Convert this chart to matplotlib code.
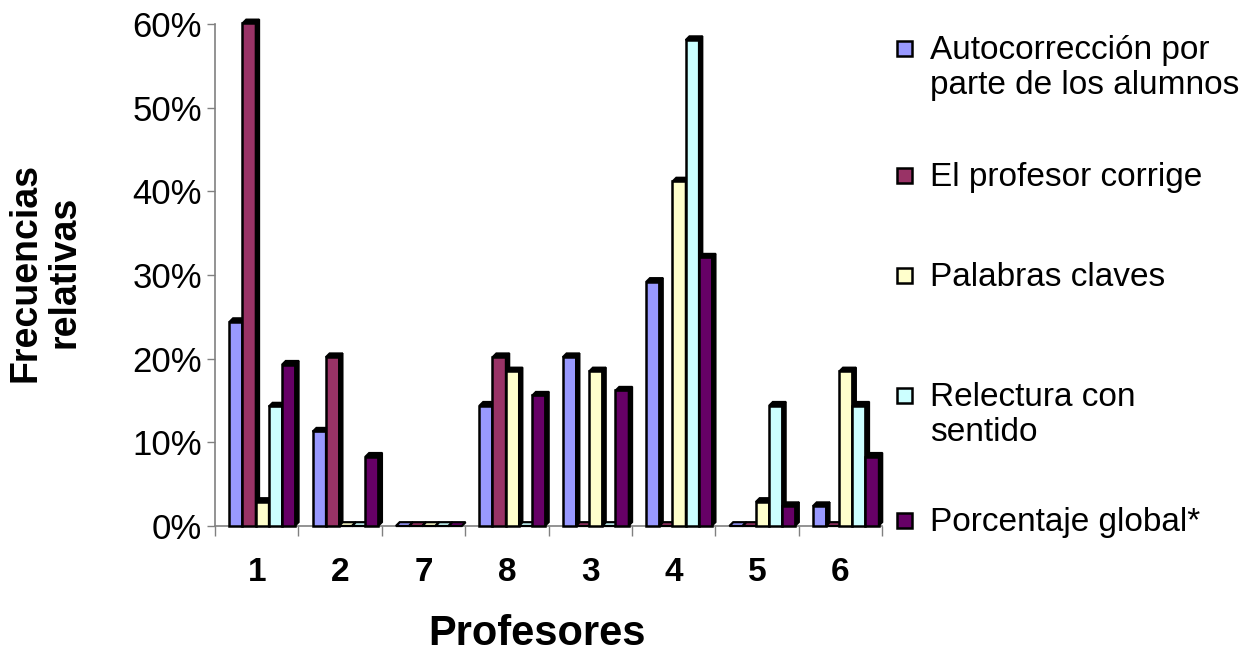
import matplotlib
matplotlib.use("Agg")
import matplotlib.pyplot as plt
from matplotlib.patches import Polygon, Rectangle
from matplotlib.ticker import PercentFormatter, FixedLocator

plt.rcParams['font.family'] = ['Liberation Sans', 'DejaVu Sans']

# Teachers in the order they appear on the axis
profesores = ["1", "2", "7", "8", "3", "4", "5", "6"]

series_names = [
    "Autocorrección por\nparte de los alumnos",
    "El profesor corrige",
    "Palabras claves",
    "Relectura con\nsentido",
    "Porcentaje global*",
]
series_colors = ["#9999FF", "#993366", "#FFFFCC", "#CCFFFF", "#660066"]

# Relative frequencies (fractions) per teacher
autocorreccion = [0.244, 0.113, 0.0, 0.144, 0.202, 0.292, 0.0, 0.024]
profesor_corrige = [0.601, 0.202, 0.0, 0.202, 0.0, 0.0, 0.0, 0.0]
palabras_claves = [0.029, 0.0, 0.0, 0.185, 0.185, 0.412, 0.029, 0.185]
relectura = [0.143, 0.0, 0.0, 0.0, 0.0, 0.581, 0.144, 0.144]
global_pct = [0.193, 0.083, 0.0, 0.156, 0.162, 0.321, 0.024, 0.083]

series = [autocorreccion, profesor_corrige, palabras_claves, relectura, global_pct]

W, H, DPI = 1244, 656, 100
fig = plt.figure(figsize=(W / DPI, H / DPI), dpi=DPI)
ax_left, ax_right = 215 / W, 882 / W
ax_bottom, ax_top = (H - 526) / H, (H - 24) / H
ax = fig.add_axes([ax_left, ax_bottom, ax_right - ax_left, ax_top - ax_bottom])

n_cat = len(profesores)
ax.set_xlim(0, n_cat)
ax.set_ylim(0, 0.6)

# depth of the pseudo-3D faces, in pixels converted to data units
ax_w_px = (ax_right - ax_left) * W
ax_h_px = (ax_top - ax_bottom) * H
depth_px = 3.8
dx = depth_px * n_cat / ax_w_px
dy = depth_px * 0.6 / ax_h_px

bar_w = 0.158
shift = 0.065
n_ser = len(series)
for s, (vals, color) in enumerate(zip(series, series_colors)):
    for i, v in enumerate(vals):
        x0 = i + 0.5 + shift + (s - n_ser / 2) * bar_w
        x1 = x0 + bar_w
        if v > 0:
            ax.bar(x0, v, width=bar_w, align="edge", color=color,
                   edgecolor="black", linewidth=1.8, zorder=3 + s, clip_on=False)
            side = Polygon([(x1, 0), (x1 + dx, dy), (x1 + dx, v + dy), (x1, v)],
                           closed=True, facecolor="black", edgecolor="black",
                           linewidth=1.2, zorder=3 + s, clip_on=False)
            top = Polygon([(x0, v), (x0 + dx, v + dy), (x1 + dx, v + dy), (x1, v)],
                          closed=True, facecolor="black", edgecolor="black",
                          linewidth=1.2, zorder=3 + s, clip_on=False)
            ax.add_patch(side)
            ax.add_patch(top)
        else:
            flat = Polygon([(x0, 0), (x0 + dx, dy), (x1 + dx, dy), (x1, 0)],
                           closed=True, facecolor=color, edgecolor="black",
                           linewidth=1.6, zorder=3 + s, clip_on=False)
            ax.add_patch(flat)

# axes styling
for sp in ("top", "right"):
    ax.spines[sp].set_visible(False)
ax.spines["left"].set_color("#808080")
ax.spines["bottom"].set_color("#808080")
ax.spines["left"].set_linewidth(1.2)
ax.spines["bottom"].set_linewidth(1.2)

ax.yaxis.set_major_locator(FixedLocator([0, 0.1, 0.2, 0.3, 0.4, 0.5, 0.6]))
ax.yaxis.set_major_formatter(PercentFormatter(1.0, decimals=0))
ax.tick_params(axis="y", direction="out", length=5.5, width=1, color="#808080",
               labelsize=25, pad=4)

ax.set_xticks([i + 0.5 for i in range(n_cat)])
ax.set_xticklabels(profesores, fontsize=24, fontweight="bold")
ax.tick_params(axis="x", which="major", length=0, pad=22)
ax.set_xticks(range(n_cat + 1), minor=True)
ax.tick_params(axis="x", which="minor", direction="out", length=7, width=1,
               color="#808080")

fig.text(537 / W, (H - 645) / H, "Profesores",
         ha="center", va="baseline", fontsize=30, fontweight="bold")
fig.text(45 / W, (H - 272) / H, "Frecuencias\nrelativas", rotation=90,
         ha="center", va="center", multialignment="center",
         fontsize=27, fontweight="bold", linespacing=1.1)

# legend on the right
legend_y = [48, 175, 275, 395, 520]
for name, color, ly in zip(series_names, series_colors, legend_y):
    sq = 15
    fig.patches.append(Rectangle((897 / W, (H - ly - sq / 2) / H), sq / W, sq / H,
                                 transform=fig.transFigure, facecolor=color,
                                 edgecolor="black", linewidth=1.8))
    fig.text(930 / W, (H - ly + 13) / H, name, ha="left", va="top",
             fontsize=24, linespacing=1.15)

fig.savefig("out.png", dpi=DPI, facecolor="white")
